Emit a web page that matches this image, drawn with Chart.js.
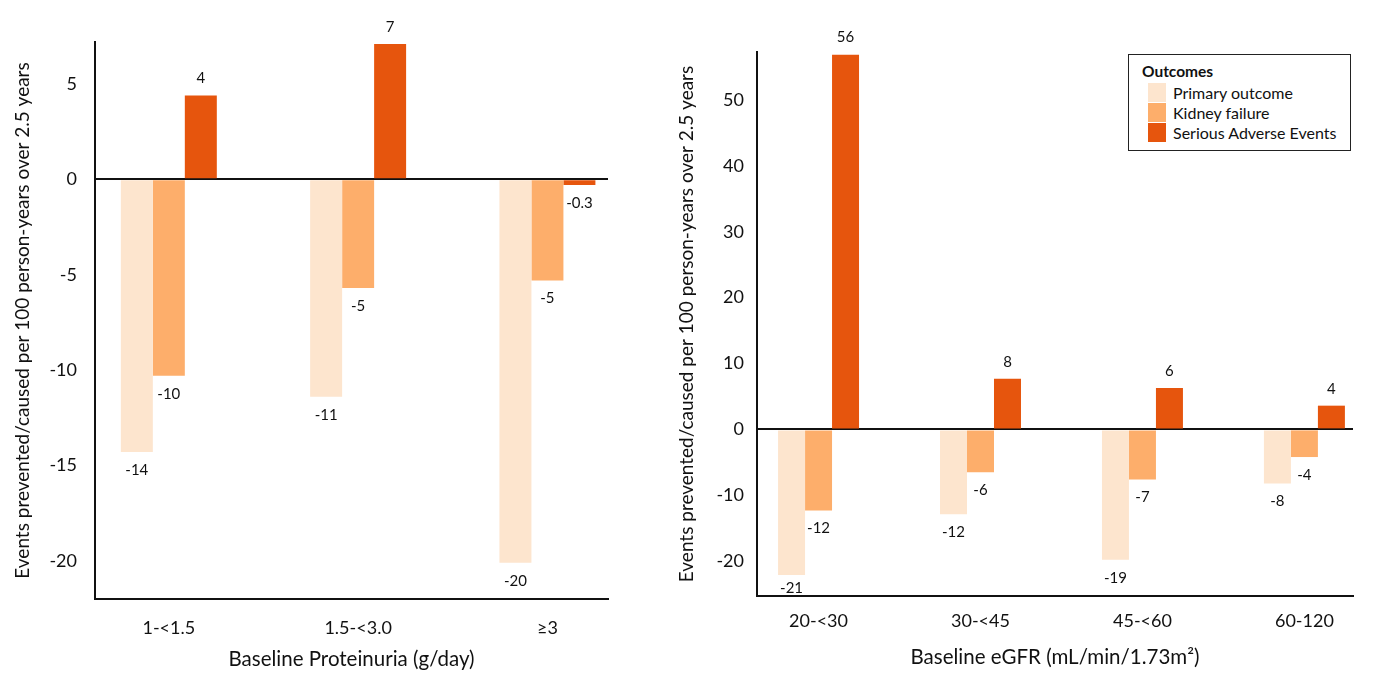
<!DOCTYPE html>
<html>
<head>
<meta charset="utf-8">
<script src="https://cdn.jsdelivr.net/npm/chart.js@4.4.1/dist/chart.umd.min.js"></script>
<style>
  html, body { margin: 0; padding: 0; background: #fff; }
  body { width: 1374px; height: 678px; overflow: hidden; position: relative; font-family: Lato, sans-serif; }
  #leftWrap { position: absolute; left: 0; top: 0; width: 664px; height: 678px; }
  #rightWrap { position: absolute; left: 664px; top: 0; width: 710px; height: 678px; }
  #legend { position: absolute; left: 1128px; top: 54px; width: 223px; height: 97px; box-sizing: border-box;
            border: 1.5px solid #222; background: #fff; padding: 7px 0 0 13px; color: #111; }
  #legend .ttl { font-weight: bold; font-size: 15.5px; line-height: 19px; margin-bottom: 1px; }
  #legend .row { display: flex; align-items: center; height: 20px; font-size: 16px; }
  #legend .sw { width: 18px; height: 19px; margin: 0 7px 0 6px; }
</style>
</head>
<body>
<div id="leftWrap"><canvas id="leftChart"></canvas></div>
<div id="rightWrap"><canvas id="rightChart"></canvas></div>
<div id="legend"></div>
<script>
// ---- Data ----
const seriesNames = ['Primary outcome', 'Kidney failure', 'Serious Adverse Events'];
const seriesColors = ['#fde5ce', '#fdae6b', '#e6550d'];
const legendTitle = 'Outcomes';

const yTitle = 'Events prevented/caused per 100 person-years over 2.5 years';

const proteinuriaCategories = ['1-<1.5', '1.5-<3.0', '≥3'];
const proteinuriaPrimary = [-14.3, -11.4, -20.1];
const proteinuriaKidney = [-10.3, -5.7, -5.3];
const proteinuriaSAE = [4.4, 7.1, -0.3];
const proteinuriaPrimaryLabels = ['-14', '-11', '-20'];
const proteinuriaKidneyLabels = ['-10', '-5', '-5'];
const proteinuriaSAELabels = ['4', '7', '-0.3'];
const proteinuriaTitle = 'Baseline Proteinuria (g/day)';

const egfrCategories = ['20-<30', '30-<45', '45-<60', '60-120'];
const egfrPrimary = [-22.1, -12.9, -19.8, -8.2];
const egfrKidney = [-12.3, -6.5, -7.6, -4.2];
const egfrSAE = [56.9, 7.7, 6.3, 3.6];
const egfrPrimaryLabels = ['-21', '-12', '-19', '-8'];
const egfrKidneyLabels = ['-12', '-6', '-7', '-4'];
const egfrSAELabels = ['56', '8', '6', '4'];
const egfrTitle = 'Baseline eGFR (mL/min/1.73m²)';

// ---- Value label plugin ----
const valueLabelPlugin = {
  id: 'valueLabels',
  afterDatasetsDraw(chart) {
    const ctx = chart.ctx;
    const area = chart.chartArea;
    ctx.save();
    ctx.font = '15px Lato';
    ctx.fillStyle = '#111';
    ctx.textAlign = 'center';
    ctx.textBaseline = 'middle';
    chart.data.datasets.forEach((ds, di) => {
      const meta = chart.getDatasetMeta(di);
      meta.data.forEach((el, i) => {
        const v = ds.data[i].y;
        let y = v >= 0 ? el.y - 17 : el.y + 18;
        y = Math.min(y, area.bottom - 8);
        ctx.fillText(ds.valueLabels[i], el.x, y);
      });
    });
    ctx.restore();
  }
};

function makeChart(id, cats, seriesVals, seriesLabels, cfg) {
  const datasets = seriesVals.map((vals, s) => ({
    label: seriesNames[s],
    data: cats.map((c, i) => ({ x: i, y: vals[i] })),
    valueLabels: seriesLabels[s],
    backgroundColor: seriesColors[s],
    borderWidth: 0,
    barPercentage: 1,
    categoryPercentage: cfg.catPct
  }));
  return new Chart(document.getElementById(id), {
    type: 'bar',
    data: { datasets },
    plugins: [valueLabelPlugin],
    options: {
      responsive: true,
      maintainAspectRatio: false,
      animation: false,
      layout: { padding: { top: cfg.top, right: cfg.right, left: 0, bottom: 0 } },
      plugins: { legend: { display: false }, tooltip: { enabled: false } },
      scales: {
        x: {
          type: 'linear',
          position: 'bottom',
          offset: false,
          min: cfg.xMin,
          max: cfg.xMax,
          grid: { display: false, drawTicks: false, offset: false },
          border: { display: true, color: '#111', width: 2 },
          afterBuildTicks: (s) => { s.ticks = cats.map((c, i) => ({ value: i })); },
          afterFit: (s) => { s.height = cfg.xHeight; },
          ticks: {
            autoSkip: false, maxRotation: 0, minRotation: 0,
            padding: cfg.xTickPad, color: '#111',
            font: { family: 'Lato', size: 18 },
            callback: (v) => (cats[v] !== undefined ? cats[v] : '')
          },
          title: {
            display: true, text: cfg.xTitle, color: '#111',
            font: { family: 'Lato', size: 20.5 },
            padding: { top: 0, bottom: cfg.xTitlePad }
          }
        },
        y: {
          min: cfg.yMin,
          max: cfg.yMax,
          z: 1,
          afterBuildTicks: (s) => { s.ticks = s.ticks.filter(t => Math.abs(t.value % cfg.yStep) < 1e-9); },
          afterFit: (s) => { s.width = cfg.yWidth; },
          ticks: {
            stepSize: cfg.yStep, padding: cfg.yTickPad, color: '#111',
            font: { family: 'Lato', size: 18 }
          },
          grid: {
            drawTicks: false,
            color: (c) => (c.tick && c.tick.value === 0 ? '#111' : 'rgba(0,0,0,0)'),
            lineWidth: (c) => (c.tick && c.tick.value === 0 ? 2 : 0)
          },
          border: { display: true, color: '#111', width: 2 },
          title: {
            display: true, text: yTitle, color: '#111',
            font: { family: 'Lato', size: 19 },
            padding: { top: 11, bottom: 0 }
          }
        }
      }
    }
  });
}

makeChart('leftChart', proteinuriaCategories,
  [proteinuriaPrimary, proteinuriaKidney, proteinuriaSAE],
  [proteinuriaPrimaryLabels, proteinuriaKidneyLabels, proteinuriaSAELabels],
  { top: 42, right: 56, xHeight: 79, yWidth: 95, xMin: -0.39, xMax: 2.32, catPct: 0.507,
    yMin: -22, yMax: 7.2, yStep: 5, yTickPad: 18, xTickPad: 18, xTitlePad: 6, xTitle: proteinuriaTitle });

makeChart('rightChart', egfrCategories,
  [egfrPrimary, egfrKidney, egfrSAE],
  [egfrPrimaryLabels, egfrKidneyLabels, egfrSAELabels],
  { top: 52, right: 21, xHeight: 82, yWidth: 93, xMin: -0.38, xMax: 3.3, catPct: 0.5,
    yMin: -25.3, yMax: 57.3, yStep: 10, yTickPad: 13, xTickPad: 14, xTitlePad: 8, xTitle: egfrTitle });

// ---- Legend built from series ----
const leg = document.getElementById('legend');
const t = document.createElement('div');
t.className = 'ttl';
t.textContent = legendTitle;
leg.appendChild(t);
seriesNames.forEach((n, i) => {
  const r = document.createElement('div');
  r.className = 'row';
  const sw = document.createElement('span');
  sw.className = 'sw';
  sw.style.background = seriesColors[i];
  const tx = document.createElement('span');
  tx.textContent = n;
  r.appendChild(sw);
  r.appendChild(tx);
  leg.appendChild(r);
});
</script>
</body>
</html>
